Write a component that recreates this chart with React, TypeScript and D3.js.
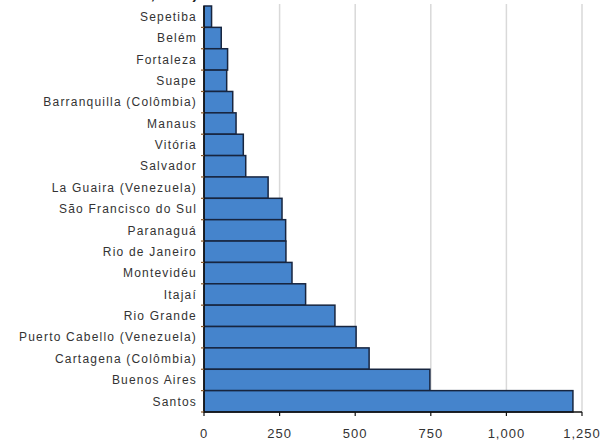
import React from "react";
import * as d3 from "d3";

const ports: string[] = [
  "Sepetiba",
  "Belém",
  "Fortaleza",
  "Suape",
  "Barranquilla (Colômbia)",
  "Manaus",
  "Vitória",
  "Salvador",
  "La Guaira (Venezuela)",
  "São Francisco do Sul",
  "Paranaguá",
  "Rio de Janeiro",
  "Montevidéu",
  "Itajaí",
  "Rio Grande",
  "Puerto Cabello (Venezuela)",
  "Cartagena (Colômbia)",
  "Buenos Aires",
  "Santos",
];

const values: number[] = [
  25, 57, 78, 75, 95, 106, 130, 138, 212, 258, 270, 271, 291, 336, 433, 503, 546, 747, 1220,
];

const tickValues: number[] = [0, 250, 500, 750, 1000, 1250];
const tickLabels: string[] = ["0", "250", "500", "750", "1,000", "1,250"];
const titleText = "(em milhares de TEUs, 2008)";

const W = 603;
const H = 448;
const left = 204;
const right = 582;
const top = 6;
const bottom = 412;

export default function App() {
  const x = d3.scaleLinear().domain([0, 1250]).range([left, right]);
  const y = d3.scaleBand<string>().domain(ports).range([top, bottom]).padding(0);
  const font = "'Liberation Sans', Arial, sans-serif";

  return (
    <svg
      width={W}
      height={H}
      style={{ position: "absolute", left: 0, top: 0, background: "#fff" }}
    >
      <text x={-6} y={-1} fontFamily={font} fontSize={15} fontWeight="bold" fill="#222">
        {titleText}
      </text>
      {tickValues.slice(1).map((t) => (
        <line
          key={"g" + t}
          x1={x(t)}
          x2={x(t)}
          y1={4}
          y2={bottom}
          stroke="#d9d9d9"
          strokeWidth={1.5}
        />
      ))}
      {ports.map((p, i) => (
        <rect
          key={p}
          x={x(0)}
          y={y(p)}
          width={x(values[i]) - x(0)}
          height={y.bandwidth()}
          fill="#4584cc"
          stroke="#17253f"
          strokeWidth={1.5}
        />
      ))}
      <line x1={left} x2={left} y1={top} y2={bottom} stroke="#111" strokeWidth={1.5} />
      <line x1={left} x2={right} y1={bottom} y2={bottom} stroke="#111" strokeWidth={1.5} />
      {ports.map((p) => (
        <line
          key={"yt" + p}
          x1={left - 3}
          x2={left}
          y1={(y(p) as number) + y.bandwidth()}
          y2={(y(p) as number) + y.bandwidth()}
          stroke="#8a5a2a"
          strokeWidth={1.2}
        />
      ))}
      {ports.map((p) => (
        <text
          key={"l" + p}
          x={197}
          y={(y(p) as number) + y.bandwidth() / 2}
          dy="0.35em"
          textAnchor="end"
          fontFamily={font}
          fontSize={12}
          letterSpacing={1.2}
          fill="#333"
        >
          {p}
        </text>
      ))}
      {tickValues.map((t, i) => (
        <g key={"xt" + t}>
          <line x1={x(t)} x2={x(t)} y1={bottom} y2={bottom + 4} stroke="#111" strokeWidth={1.2} />
          <text
            x={x(t)}
            y={438}
            textAnchor="middle"
            fontFamily={font}
            fontSize={13}
            letterSpacing={1}
            fill="#333"
          >
            {tickLabels[i]}
          </text>
        </g>
      ))}
    </svg>
  );
}
